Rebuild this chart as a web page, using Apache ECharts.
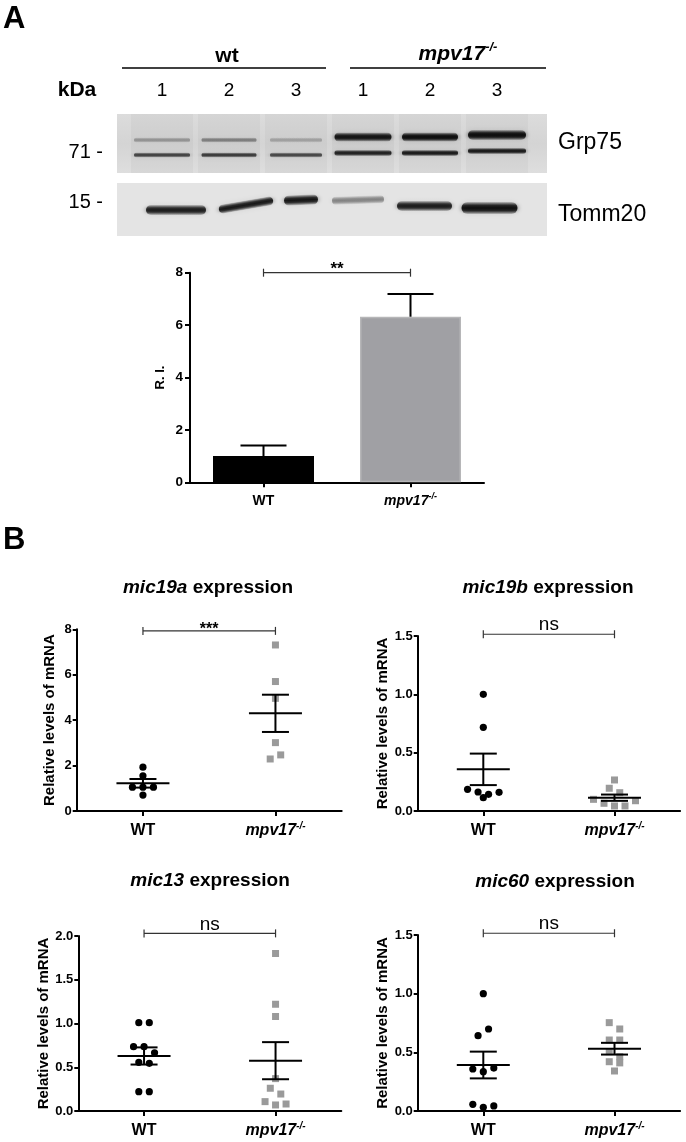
<!DOCTYPE html>
<html><head><meta charset="utf-8">
<script src="https://cdn.jsdelivr.net/npm/echarts@6/dist/echarts.min.js"></script>
<style>html,body{margin:0;padding:0;background:#fff}#c{width:686px;height:1142px}</style>
</head><body><div id="c"></div>
<script>
// ================= DATA =================
const groups = ['WT', 'mpv17'];
// western blot lanes and relative band intensities (0..1)
const laneLabels = ['1', '2', '3', '1', '2', '3'];
const grp75Upper = [0.30, 0.40, 0.24, 0.95, 1.0, 1.0];
const grp75Lower = [0.70, 0.74, 0.68, 0.88, 0.92, 0.92];
const tomm20Band = [0.88, 0.90, 0.92, 0.40, 0.88, 0.97];

// bar chart (R.I.)
const riTicks = ['0', '2', '4', '6', '8'];
const riValues = [1.0, 6.32];
const riErrors = [0.40, 0.87];

// scatter panels
const mic19aTicks = ['0', '2', '4', '6', '8'];
const mic19aWT = [1.93, 1.55, 1.05, 1.05, 1.05, 0.70];
const mic19aKO = [7.31, 5.70, 4.96, 3.01, 2.29, 2.47];
const mic19aMean = [1.22, 4.30];
const mic19aSem = [0.19, 0.82];

const mic19bTicks = ['0.0', '0.5', '1.0', '1.5'];
const mic19bWT = [1.0, 0.717, 0.186, 0.163, 0.114, 0.143, 0.160];
const mic19bKO = [0.266, 0.195, 0.157, 0.100, 0.066, 0.043, 0.043, 0.088];
const mic19bMean = [0.357, 0.114];
const mic19bSem = [0.135, 0.027];

const mic13Ticks = ['0.0', '0.5', '1.0', '1.5', '2.0'];
const mic13WT = [1.01, 1.01, 0.735, 0.735, 0.666, 0.556, 0.545, 0.221, 0.221];
const mic13KO = [1.80, 1.22, 1.08, 0.37, 0.26, 0.194, 0.107, 0.069, 0.080];
const mic13Mean = [0.629, 0.575];
const mic13Sem = [0.098, 0.212];

const mic60Ticks = ['0.0', '0.5', '1.0', '1.5'];
const mic60WT = [1.0, 0.642, 0.699, 0.358, 0.335, 0.366, 0.057, 0.031, 0.043];
const mic60KO = [0.753, 0.699, 0.605, 0.605, 0.506, 0.463, 0.420, 0.410, 0.341];
const mic60Mean = [0.392, 0.531];
const mic60Sem = [0.114, 0.050];

// significance brackets: bar, mic19a, mic19b, mic13, mic60
const sigLabels = ['**', '***', 'ns', 'ns', 'ns'];
const sigLevels = [8.0, 7.93, 1.515, 2.03, 1.515];

// ================= STYLE / LAYOUT =================
const FONT = '"Liberation Sans", Arial, Helvetica, sans-serif';
const blotLayout = {
  upperY: [26, 26, 26, 23, 23, 21], upperH: [5, 5, 5, 9, 9, 10],
  lowerY: [41, 41, 41, 39, 39, 37], lowerH: [5, 5, 5, 6, 6, 6],
  bandW: [56, 55, 52, 57, 56, 58],
  tommY: [96, 91, 86, 86, 92, 94], tommH: [10, 9, 10, 8, 10, 12],
  tommW: [60, 55, 34, 52, 55, 56], tommDx: [14, 17, 5, -5, -5.5, -7.5],
  tommTilt: [0, 0.17, 0.04, 0.03, 0, 0]
};

function txt(text, x, y, size, o) {
  o = o || {};
  const st = {
    text: text, fill: '#000', fontSize: size, fontFamily: FONT,
    fontWeight: o.bold ? 'bold' : 'normal', fontStyle: o.italic ? 'italic' : 'normal',
    align: o.align || 'center', verticalAlign: 'middle'
  };
  if (o.rich) st.rich = o.rich;
  return { type: 'text', x: x, y: y, z: 10, style: st };
}
function richTitle(gene, x, y) {
  return txt('{i|' + gene + '}{b| expression}', x, y, 19, {
    bold: true,
    rich: {
      i: { fontSize: 19, fontWeight: 'bold', fontStyle: 'italic', fontFamily: FONT, fill: '#000' },
      b: { fontSize: 19, fontWeight: 'bold', fontFamily: FONT, fill: '#000' }
    }
  });
}

function swarmOffsets(ys, thr) {
  const order = ys.map((_, i) => i).sort((a, b) => (ys[a] - ys[b]) || (a - b));
  const off = new Array(ys.length).fill(0);
  let row = [];
  const flush = () => {
    row.sort((a, b) => a - b);
    row.forEach((k, j) => { off[k] = j - (row.length - 1) / 2; });
    row = [];
  };
  order.forEach(i => {
    if (row.length && Math.abs(ys[i] - ys[row[0]]) >= thr) flush();
    row.push(i);
  });
  flush();
  return off;
}

function dotSeries(gi, cat, values, shape) {
  return {
    type: 'custom', xAxisIndex: gi, yAxisIndex: gi, z: 3, clip: false,
    data: values.map(v => [cat, v]),
    renderItem: function (params, api) {
      const ys = values.map(v => api.coord([cat, v])[1]);
      const off = swarmOffsets(ys, 7.5);
      const p = api.coord([cat, values[params.dataIndex]]);
      const x = p[0] + off[params.dataIndex] * 10.5;
      if (shape === 'circle') {
        return { type: 'circle', shape: { cx: x, cy: p[1], r: 3.6 }, style: { fill: '#000' } };
      }
      return { type: 'rect', shape: { x: x - 3.5, y: p[1] - 3.5, width: 7, height: 7 }, style: { fill: '#9a9a9a' } };
    }
  };
}

function meanSeries(gi, mean, sem) {
  return {
    type: 'custom', xAxisIndex: gi, yAxisIndex: gi, z: 6, clip: false,
    data: mean.map((m, i) => [i, m, sem[i]]),
    renderItem: function (params, api) {
      const cat = params.dataIndex;
      const m = mean[cat], s = sem[cat];
      const c = api.coord([cat, m]);
      const hi = api.coord([cat, m + s]);
      const lo = api.coord([cat, m - s]);
      const st = { stroke: '#000', lineWidth: 2 };
      return {
        type: 'group', children: [
          { type: 'line', shape: { x1: c[0] - 26.5, y1: c[1], x2: c[0] + 26.5, y2: c[1] }, style: st },
          { type: 'line', shape: { x1: c[0] - 13.5, y1: hi[1], x2: c[0] + 13.5, y2: hi[1] }, style: st },
          { type: 'line', shape: { x1: c[0] - 13.5, y1: lo[1], x2: c[0] + 13.5, y2: lo[1] }, style: st },
          { type: 'line', shape: { x1: c[0], y1: hi[1], x2: c[0], y2: lo[1] }, style: st }
        ]
      };
    }
  };
}

function sigSeries(gi, k) {
  const level = sigLevels[k], label = sigLabels[k];
  const stars = label.indexOf('*') >= 0;
  return {
    type: 'custom', xAxisIndex: gi, yAxisIndex: gi, z: 6, clip: false,
    data: [[0, level]],
    renderItem: function (params, api) {
      const p0 = api.coord([0, level]), p1 = api.coord([1, level]);
      const st = { stroke: '#333', lineWidth: 1.2 };
      const mid = (p0[0] + p1[0]) / 2;
      return {
        type: 'group', children: [
          { type: 'line', shape: { x1: p0[0], y1: p0[1], x2: p1[0], y2: p1[1] }, style: st },
          { type: 'line', shape: { x1: p0[0], y1: p0[1] - 4, x2: p0[0], y2: p0[1] + 4 }, style: st },
          { type: 'line', shape: { x1: p1[0], y1: p1[1] - 4, x2: p1[0], y2: p1[1] + 4 }, style: st },
          {
            type: 'text', style: {
              text: label, x: mid, y: p0[1] - (stars ? (k === 0 ? 3.7 : 1.5) : 9),
              align: 'center', verticalAlign: 'middle', fill: '#000', fontFamily: FONT,
              fontSize: stars ? (k === 0 ? 17 : 16) : 19, fontWeight: stars ? 'bold' : 'normal'
            }
          }
        ]
      };
    }
  };
}

function valueAxis(gi, ticks, name, nameGap, labelSize, tickLen, margin, nameSize) {
  const nums = ticks.map(Number);
  const step = nums[1] - nums[0];
  return {
    type: 'value', gridIndex: gi, min: nums[0], max: nums[nums.length - 1], interval: step,
    axisLine: { show: true, lineStyle: { color: '#000', width: 2 } },
    axisTick: { show: true, length: tickLen, lineStyle: { color: '#000', width: 2 } },
    splitLine: { show: false },
    axisLabel: {
      color: '#000', fontSize: labelSize, fontWeight: 'bold', fontFamily: FONT, margin: margin,
      formatter: v => ticks[Math.round((v - nums[0]) / step)]
    },
    name: name, nameLocation: 'middle', nameGap: nameGap, nameRotate: 90,
    nameTextStyle: { color: '#000', fontSize: nameSize, fontWeight: 'bold', fontFamily: FONT }
  };
}

function catAxis(gi, size, supSize, margin) {
  return {
    type: 'category', gridIndex: gi, data: groups, boundaryGap: true,
    axisLine: { show: true, lineStyle: { color: '#000', width: 2 } },
    axisTick: { show: true, alignWithLabel: true, length: 5, lineStyle: { color: '#000', width: 2 } },
    splitLine: { show: false },
    axisLabel: {
      margin: margin, interval: 0, color: '#000',
      formatter: v => v === 'WT' ? '{b|WT}' : '{i|mpv17}{s|-/-}',
      rich: {
        b: { fontSize: size, fontWeight: 'bold', fontFamily: FONT, color: '#000', lineHeight: size + 4 },
        i: { fontSize: size, fontWeight: 'bold', fontStyle: 'italic', fontFamily: FONT, color: '#000', lineHeight: size + 4 },
        s: { fontSize: supSize, fontWeight: 'bold', fontStyle: 'italic', fontFamily: FONT, color: '#000', verticalAlign: 'top', lineHeight: supSize + 1 }
      }
    }
  };
}

// ================= OPTION =================
const grids = [
  { left: 128.5, top: 114, width: 402, height: 122 },     // blot lanes
  { left: 190, top: 272.7, width: 294, height: 209.6 },   // bar
  { left: 76.7, top: 629.3, width: 265, height: 181.7 },  // mic19a
  { left: 417.7, top: 636, width: 262.4, height: 175 },   // mic19b
  { left: 78.3, top: 936, width: 263, height: 175 },      // mic13
  { left: 417.7, top: 935, width: 262.4, height: 176 }    // mic60
].map(g => Object.assign({ containLabel: false, outerBoundsMode: 'none' }, g));

const xAxes = [
  {
    type: 'category', gridIndex: 0, data: laneLabels, position: 'top', boundaryGap: true,
    axisLine: { show: false }, axisTick: { show: false }, splitLine: { show: false },
    axisLabel: { interval: 0, margin: 14, color: '#000', fontSize: 19, fontFamily: FONT }
  },
  catAxis(1, 14, 9, 10),
  catAxis(2, 16, 10, 10),
  catAxis(3, 16, 10, 10),
  catAxis(4, 16, 10, 10),
  catAxis(5, 16, 10, 10)
];
const yAxes = [
  { type: 'value', gridIndex: 0, min: 0, max: 1, show: false },
  valueAxis(1, riTicks, 'R. I.', 23.5, 13.5, 5, 7, 13),
  valueAxis(2, mic19aTicks, 'Relative levels of mRNA', 19, 13, 4, 5, 15),
  valueAxis(3, mic19bTicks, 'Relative levels of mRNA', 25, 13, 4, 5, 15),
  valueAxis(4, mic13Ticks, 'Relative levels of mRNA', 26, 13, 4, 5, 15),
  valueAxis(5, mic60Ticks, 'Relative levels of mRNA', 25, 13, 4, 5, 15)
];

function softFill(a) {
  const c = (k) => 'rgba(12,12,12,' + (a * k).toFixed(3) + ')';
  return {
    type: 'linear', x: 0, y: 0, x2: 0, y2: 1,
    colorStops: [
      { offset: 0, color: c(0.15) }, { offset: 0.3, color: c(0.85) },
      { offset: 0.5, color: c(1) }, { offset: 0.7, color: c(0.85) }, { offset: 1, color: c(0.15) }
    ]
  };
}

const blotSeries = {
  type: 'custom', xAxisIndex: 0, yAxisIndex: 0, z: 3, clip: false,
  data: laneLabels.map((l, i) => [i, grp75Upper[i], grp75Lower[i], tomm20Band[i]]),
  renderItem: function (params, api) {
    const i = params.dataIndex;
    const cx = api.coord([i, 0])[0];
    const top = params.coordSys.y;
    const L = blotLayout;
    const band = (x, y, w, h, a, extra) => Object.assign({
      type: 'rect', shape: { x: x - w / 2, y: y - h / 2, width: w, height: h, r: h / 2 },
      style: { fill: softFill(a), shadowBlur: 5, shadowColor: 'rgba(12,12,12,' + (a * 0.6).toFixed(3) + ')' }
    }, extra || {});
    const ty = top + L.tommY[i];
    const tx = cx + L.tommDx[i];
    return {
      type: 'group', children: [
        { type: 'rect', shape: { x: cx - 31, y: top, width: 62, height: 59 },
          style: { fill: 'rgba(0,0,0,0.03)', shadowBlur: 6, shadowColor: 'rgba(0,0,0,0.05)' } },
        band(cx, top + L.upperY[i], L.bandW[i], L.upperH[i], grp75Upper[i]),
        band(cx, top + L.lowerY[i], L.bandW[i], L.lowerH[i], grp75Lower[i]),
        band(tx, ty, L.tommW[i], L.tommH[i], tomm20Band[i], { rotation: L.tommTilt[i], originX: tx, originY: ty })
      ]
    };
  }
};

const series = [
  blotSeries,
  {
    type: 'bar', xAxisIndex: 1, yAxisIndex: 1, barWidth: 101, z: 2,
    data: riValues.map((v, i) => ({
      value: v,
      itemStyle: i === 0 ? { color: '#000' } : { color: '#a0a0a4', borderColor: '#b6b6b8', borderWidth: 1.5 }
    }))
  },
  {
    type: 'custom', xAxisIndex: 1, yAxisIndex: 1, z: 4, clip: false,
    data: riValues.map((v, i) => [i, v, riErrors[i]]),
    renderItem: function (params, api) {
      const i = params.dataIndex;
      const b = api.coord([i, riValues[i]]);
      const t = api.coord([i, riValues[i] + riErrors[i]]);
      const st = { stroke: '#000', lineWidth: 2 };
      return {
        type: 'group', children: [
          { type: 'line', shape: { x1: b[0], y1: b[1], x2: t[0], y2: t[1] }, style: st },
          { type: 'line', shape: { x1: t[0] - 23, y1: t[1], x2: t[0] + 23, y2: t[1] }, style: st }
        ]
      };
    }
  },
  sigSeries(1, 0),
  dotSeries(2, 0, mic19aWT, 'circle'), dotSeries(2, 1, mic19aKO, 'square'),
  meanSeries(2, mic19aMean, mic19aSem), sigSeries(2, 1),
  dotSeries(3, 0, mic19bWT, 'circle'), dotSeries(3, 1, mic19bKO, 'square'),
  meanSeries(3, mic19bMean, mic19bSem), sigSeries(3, 2),
  dotSeries(4, 0, mic13WT, 'circle'), dotSeries(4, 1, mic13KO, 'square'),
  meanSeries(4, mic13Mean, mic13Sem), sigSeries(4, 3),
  dotSeries(5, 0, mic60WT, 'circle'), dotSeries(5, 1, mic60KO, 'square'),
  meanSeries(5, mic60Mean, mic60Sem), sigSeries(5, 4)
];

const graphics = [
  // blot backgrounds
  { type: 'rect', z: 0, shape: { x: 117, y: 114, width: 430, height: 59 },
    style: { fill: new echarts.graphic.LinearGradient(0, 0, 0, 1, [{ offset: 0, color: '#dcdcdc' }, { offset: 0.5, color: '#d4d4d4' }, { offset: 1, color: '#dedede' }]) } },
  { type: 'rect', z: 0, shape: { x: 117, y: 183, width: 430, height: 53 }, style: { fill: '#e4e4e4' } },
  txt('A', 3, 19, 31, { bold: true, align: 'left' }),
  txt('wt', 227, 56, 21, { bold: true }),
  { type: 'line', z: 10, shape: { x1: 122, y1: 68, x2: 326, y2: 68 }, style: { stroke: '#000', lineWidth: 1.5 } },
  txt('{i|mpv17}{s|-/-}', 458, 54, 21, {
    bold: true, italic: true,
    rich: {
      i: { fontSize: 21, fontWeight: 'bold', fontStyle: 'italic', fontFamily: FONT, fill: '#000', lineHeight: 26 },
      s: { fontSize: 13, fontWeight: 'bold', fontStyle: 'italic', fontFamily: FONT, fill: '#000', verticalAlign: 'top', lineHeight: 14 }
    }
  }),
  { type: 'line', z: 10, shape: { x1: 350, y1: 68, x2: 546, y2: 68 }, style: { stroke: '#000', lineWidth: 1.5 } },
  txt('kDa', 77, 90, 21, { bold: true }),
  txt('71 -', 103, 152, 20, { align: 'right' }),
  txt('15 -', 103, 202, 20, { align: 'right' }),
  txt('Grp75', 558, 143, 23, { align: 'left' }),
  txt('Tomm20', 558, 215, 23, { align: 'left' }),
  txt('B', 3, 540, 31, { bold: true, align: 'left' }),
  richTitle('mic19a', 208, 588),
  richTitle('mic19b', 548, 588),
  richTitle('mic13', 210, 881),
  richTitle('mic60', 555, 882)
];

const chart = echarts.init(document.getElementById('c'), null, { renderer: 'canvas', width: 686, height: 1142 });
chart.setOption({
  animation: false,
  backgroundColor: '#fff',
  grid: grids,
  xAxis: xAxes,
  yAxis: yAxes,
  series: series,
  graphic: graphics
});
</script>
</body></html>
